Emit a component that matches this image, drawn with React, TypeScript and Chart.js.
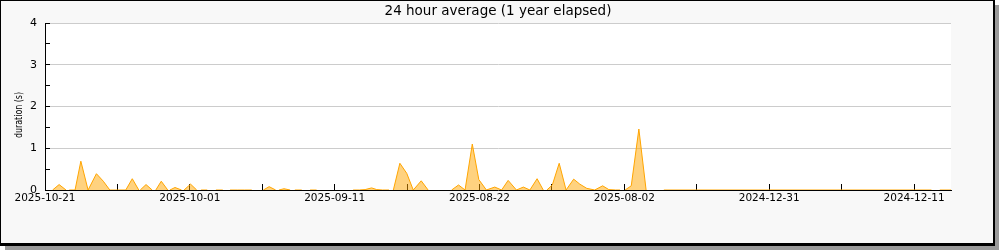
import React, { useEffect, useRef } from 'react';
import { Chart, registerables } from 'chart.js';

Chart.register(...registerables);

const TITLE = '24 hour average (1 year elapsed)';
const Y_TITLE = 'duration (s)';

// x position in days from the left edge of the axis, null values break the line
const dayOffsets = [
  1.05, 1.95, 2.9, 3.1,
  3.35, 4.15, 4.95, 5.95, 7.1, 8.05, 8.95, 10.1, 11.15, 12.05, 12.95, 13.05,
  13.15, 13.95, 14.8, 15.05,
  15.3, 16.05, 16.95, 17.1,
  17.25, 17.95, 18.85, 19.0,
  19.2, 20.1, 20.95, 21.2,
  21.55, 22.4, 23.0,
  23.6, 24.55, 25.0,
  25.55, 26.55, 27.55, 28.55, 29.3,
  30.15, 30.95, 31.85, 32.1,
  32.3, 33.0, 33.85, 34.2,
  34.5, 35.45, 36.0,
  36.6, 37.5, 40.0,
  42.55, 43.4, 44.2, 45.1, 45.8, 46.6, 47.5, 47.8,
  48.1, 49.0, 49.95, 50.85, 51.95, 52.9, 54.5,
  56.15, 57.1, 58.0, 59.0, 59.9, 60.95, 62.1, 63.05, 63.95, 65.1, 66.05, 66.95, 67.95, 68.8, 69.05,
  69.3, 70.05, 71.0, 71.95, 73.0, 73.85, 74.8, 75.9, 77.0, 77.85, 78.8, 79.4, 79.7,
  80.1, 80.95, 82.0, 83.0, 84.2,
  85.45, 122.4, 123.0,
  123.55, 125.1,
];

const durations = [
  0, 0.13, 0, null,
  0, 0, 0.69, 0, 0.39, 0.21, 0, 0, 0, 0.27, 0, null,
  0, 0.13, 0, null,
  0, 0.21, 0, null,
  0, 0.06, 0, null,
  0, 0.14, 0, null,
  0, 0, null,
  0, 0, null,
  0, 0, 0, 0, null,
  0, 0.08, 0, null,
  0, 0.03, 0, null,
  0, 0, null,
  0, 0, null,
  0, 0, 0.01, 0.05, 0.01, 0, 0, null,
  0, 0.64, 0.4, 0, 0.22, 0, null,
  0, 0.12, 0, 1.1, 0.25, 0, 0.07, 0, 0.23, 0, 0.07, 0, 0.27, 0, null,
  0, 0.12, 0.64, 0, 0.26, 0.14, 0.04, 0, 0.1, 0.01, 0, 0, null,
  0, 0.1, 1.46, 0, null,
  0, 0, null,
  0, 0,
];

const tickDays = [0, 10, 20, 30, 40, 50, 60, 70, 80, 90, 100, 110, 120];
const tickLabels = [
  '2025-10-21', '', '2025-10-01', '', '2025-09-11', '', '2025-08-22', '',
  '2025-08-02', '', '2024-12-31', '', '2024-12-11',
];

const X_MAX = 125.1;
const Y_MAX = 4;

const FONT = 'DejaVu Sans';

const framePlugin = {
  id: 'jpframe',
  beforeDraw(chart: any) {
    const { ctx, chartArea: a } = chart;
    const w = chart.width;
    const h = chart.height;
    ctx.save();
    ctx.fillStyle = '#ffffff';
    ctx.fillRect(0, 0, w, h);
    ctx.fillStyle = '#9a9a9a';
    ctx.fillRect(5, 5, w - 6, h - 5);
    ctx.fillStyle = '#000000';
    ctx.fillRect(0, 0, w - 5, h - 4);
    ctx.fillStyle = '#f8f8f8';
    ctx.fillRect(1, 1, w - 8, h - 8);
    ctx.fillStyle = '#ffffff';
    ctx.fillRect(a.left, a.top, a.right - a.left, a.bottom - a.top);
    ctx.restore();
  },
  afterDraw(chart: any) {
    const { ctx } = chart;
    ctx.save();
    ctx.fillStyle = '#000000';
    ctx.font = `13.5px "${FONT}"`;
    ctx.textAlign = 'center';
    ctx.textBaseline = 'middle';
    ctx.fillText(TITLE, 498, 11);
    ctx.translate(19, 115);
    ctx.rotate(-Math.PI / 2);
    ctx.scale(0.72, 1);
    ctx.font = `11px "${FONT}"`;
    ctx.fillText(Y_TITLE, 0, 0);
    ctx.restore();
  },
};

export default function App() {
  const ref = useRef<HTMLCanvasElement | null>(null);

  useEffect(() => {
    if (!ref.current) return;
    const points = dayOffsets.map((x, i) => ({ x, y: durations[i] }));
    const chart = new Chart(ref.current, {
      type: 'line',
      data: {
        datasets: [
          {
            data: points as any,
            borderColor: '#ffa500',
            backgroundColor: 'rgba(255,165,0,0.5)',
            borderWidth: 1,
            pointRadius: 0,
            tension: 0,
            fill: 'origin',
            spanGaps: false,
          },
        ],
      },
      options: {
        animation: false,
        responsive: false,
        events: [],
        layout: { padding: { left: 0, top: 23, right: 49, bottom: 0 } },
        plugins: {
          legend: { display: false },
          title: { display: false },
          tooltip: { enabled: false },
        },
        scales: {
          x: {
            type: 'linear',
            min: 0,
            max: X_MAX,
            afterFit: (s: any) => {
              s.height = 60;
            },
            afterBuildTicks: (s: any) => {
              s.ticks = tickDays.map((value) => ({ value }));
            },
            grid: {
              drawOnChartArea: false,
              tickLength: -6,
              tickColor: '#000000',
              tickWidth: 1,
            },
            border: { display: true, color: '#000000', width: 1 },
            ticks: {
              autoSkip: false,
              maxRotation: 0,
              minRotation: 0,
              padding: 8,
              color: '#000000',
              font: { family: FONT, size: 10.5 },
              callback: (_v: any, i: number) => tickLabels[i] ?? '',
            },
          },
          y: {
            type: 'linear',
            min: 0,
            max: Y_MAX,
            afterFit: (s: any) => {
              s.width = 45;
            },
            grid: {
              color: (c: any) =>
                c.tick && c.tick.value > 0 && Number.isInteger(c.tick.value)
                  ? '#cccccc'
                  : 'rgba(0,0,0,0)',
              tickLength: -5,
              tickColor: '#000000',
              tickWidth: 1,
            },
            border: { display: true, color: '#000000', width: 1 },
            ticks: {
              stepSize: 0.5,
              padding: 13,
              color: '#000000',
              font: { family: FONT, size: 11 },
              callback: (v: any) => (Number.isInteger(Number(v)) ? String(v) : ''),
            },
          },
        },
      },
      plugins: [framePlugin],
    });
    return () => chart.destroy();
  }, []);

  return (
    <div style={{ position: 'fixed', left: 0, top: 0, width: 1000, height: 250 }}>
      <canvas ref={ref} width={1000} height={250} style={{ display: 'block' }} />
    </div>
  );
}
